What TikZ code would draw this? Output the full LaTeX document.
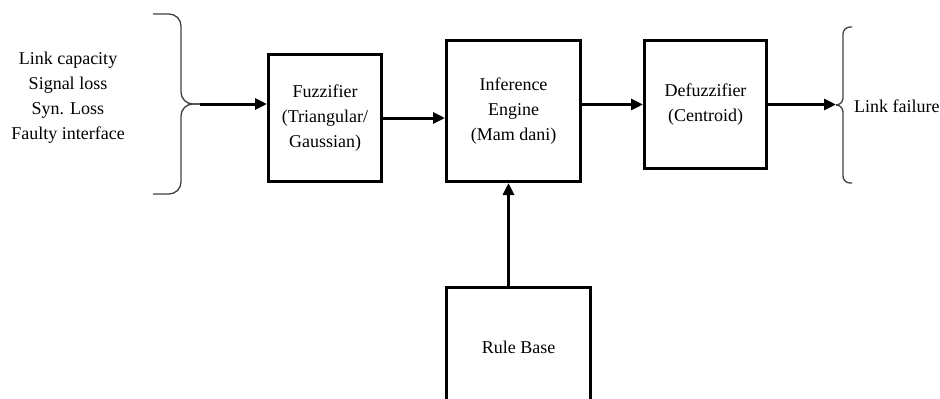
\documentclass[tikz,border=0pt]{standalone}
\usepackage{fontspec}
\setmainfont{Liberation Serif}
\usetikzlibrary{arrows.meta}

\begin{document}
\begin{tikzpicture}[x=1pt, y=-1pt,
                    every node/.style={font=\fontsize{18}{25}\selectfont, align=center},
                    block/.style={draw, line width=3pt, inner sep=0pt},
                    arr/.style={line width=3pt, -{Triangle[length=12pt,width=11pt]}},
                    curly/.style={line width=1.3pt, black!75, rounded corners=#1}
                ]

                % page frame, 940 x 399
                \clip (0,0) rectangle (940,399);

                % inputs
                \node (inputs) at (68,98) {Link capacity\\Signal loss\\Syn. Loss\\Faulty interface};
                \coordinate (intip) at (200,104);
                \draw[curly=12pt] (153,14) -- (181,14) -- (181,104) -- (intip);
                \draw[curly=12pt] (intip) -- (181,104) -- (181,194) -- (153,194);

                % blocks
                \node[block, minimum width=113pt, minimum height=127pt] (fuzz) at (325,118) {Fuzzifier\\(Triangular/\\Gaussian)};
                \node[block, minimum width=134pt, minimum height=141pt] (infer) at (513.5,111) {Inference\\Engine\\(Mam dani)};
                \node[block, minimum width=122pt, minimum height=128pt] (defuzz) at (705.5,104.5) {Defuzzifier\\(Centroid)};
                \node[block, minimum width=144pt, minimum height=120pt] (rules) at (518.5,347) {Rule Base};

                % output
                \coordinate (outtip) at (836,105);
                \draw[curly=7pt] (852,27) -- (843,27) -- (843,105) -- (outtip);
                \draw[curly=7pt] (outtip) -- (843,105) -- (843,183) -- (852,183);
                \node[anchor=west, inner sep=1pt] (out) at (853,106) {Link failure};

                % connectors
                \draw[arr] (intip) -- (intip -| fuzz.west);
                \draw[arr] (fuzz.east) -- (fuzz.east -| infer.west);
                \draw[arr] (defuzz.west -| infer.east) -- (defuzz.west);
                \draw[arr] (defuzz.east) -- (defuzz.east -| outtip);
                \draw[arr] ([xshift=-10pt]rules.north) -- ([xshift=-10pt]rules.north |- infer.south);
            \end{tikzpicture}
\end{document}
